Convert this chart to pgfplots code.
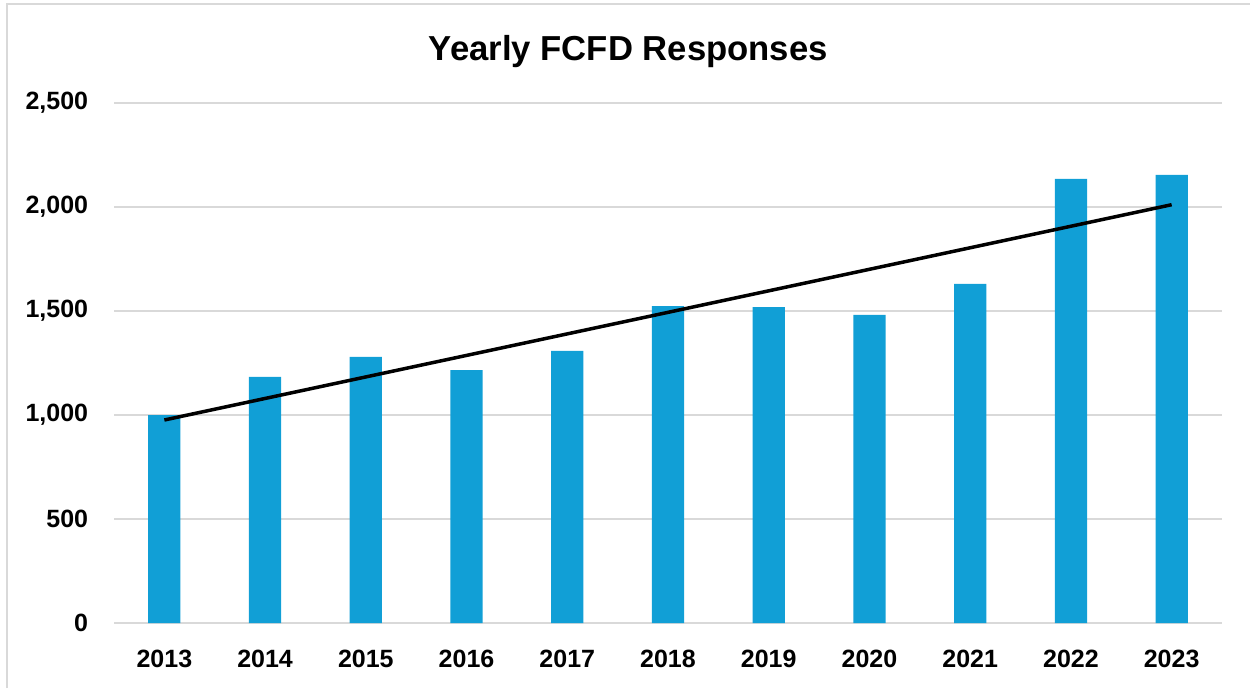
\documentclass[border=0pt]{standalone}
\usepackage{pgfplots}
\pgfplotsset{compat=1.18}
\usepackage{fontspec}
\setmainfont{Liberation Sans}
\definecolor{barblue}{RGB}{17,159,214}
\definecolor{gridgray}{RGB}{217,217,217}
\begin{document}
\begin{tikzpicture}
    \path[use as bounding box] (0,0) rectangle (750pt,412.8pt);
    \draw[gridgray, line width=1pt] (4.2pt,0) -- (4.2pt,410.4pt) -- (750pt,410.4pt);
    \node[font=\fontsize{20.8}{24}\selectfont\bfseries] at (377pt,382pt) {Yearly FCFD Responses};
    \begin{axis}[
        at={(68.4pt,39pt)}, anchor=south west,
        scale only axis,
        width=664.8pt, height=312pt,
        xmin=-0.5, xmax=10.5,
        ymin=0, ymax=2500,
        xtick={0,...,10},
        xticklabels={2013,2014,2015,2016,2017,2018,2019,2020,2021,2022,2023},
        ytick={0,500,...,2500},
        axis line style={draw=none},
        major tick length=0pt,
        ymajorgrids,
        grid style={gridgray, line width=0.9pt},
        tick label style={font=\fontsize{15}{18}\selectfont\bfseries},
        /pgf/number format/assume math mode=true,
        /pgf/number format/1000 sep={,},
        yticklabel style={xshift=-12pt},
        xticklabel style={yshift=-12.5pt},
    ]
    \addplot[ybar, bar width=0.32, fill=barblue, draw=none] coordinates {
        (0,1000) (1,1183) (2,1279) (3,1216) (4,1308) (5,1524)
        (6,1519) (7,1481) (8,1630) (9,2135) (10,2154) };
    % linear trend line
    \addplot[black, line width=2.1pt] coordinates { (0,976) (10,2011) };
    \end{axis}
\end{tikzpicture}
\end{document}
